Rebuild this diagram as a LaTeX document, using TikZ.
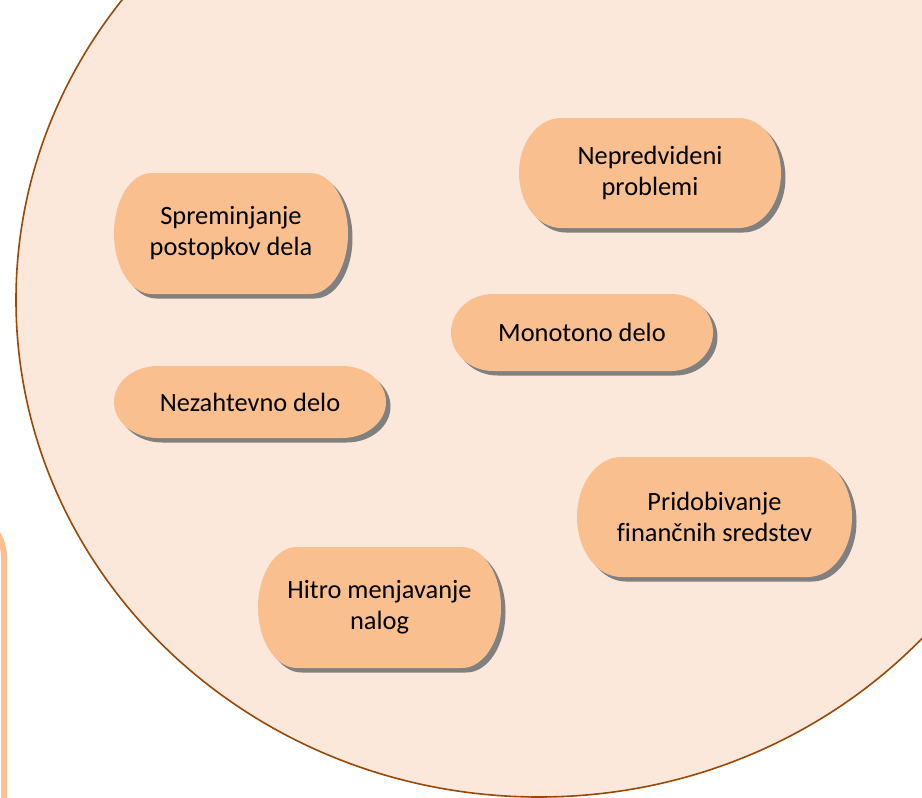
\documentclass[tikz,border=0pt]{standalone}
\usepackage{fontspec}
\setmainfont{Carlito}[Ligatures=NoCommon]
\definecolor{bigfill}{HTML}{FBE8DA}
\definecolor{bigline}{HTML}{984807}
\definecolor{pillorange}{HTML}{F9BF8F}
\definecolor{shadowgray}{HTML}{808080}
\definecolor{sideorange}{HTML}{FAC090}
\tikzset{
  bigoval/.style={fill=bigfill, draw=bigline, line width=1.6pt},
  sidebox/.style={draw=sideorange, line width=6pt, rounded corners=45pt},
  pillfill/.style={fill=pillorange},
  pillshadow/.style={fill=shadowgray},
  pilltext/.style={align=center, inner sep=0pt, text=black, font=\fontsize{26.4}{31}\selectfont}
}
\newcommand\pillbox[6]{%
  \pgfmathsetmacro\prx{0.161*(#4-#2)}%
  \pgfmathsetmacro\pry{(#5-#3)/2}%
  \pgfmathsetmacro\pxa{#2+\prx}%
  \pgfmathsetmacro\pxb{#4-\prx}%
  \fill[pillshadow, xshift=4.5pt, yshift=-4.5pt] (\pxa,-#3) -- (\pxb,-#3)
    arc[start angle=90, end angle=-90, x radius=\prx, y radius=\pry]
    -- (\pxa,-#5)
    arc[start angle=270, end angle=90, x radius=\prx, y radius=\pry] -- cycle;
  \fill[pillfill] (\pxa,-#3) -- (\pxb,-#3)
    arc[start angle=90, end angle=-90, x radius=\prx, y radius=\pry]
    -- (\pxa,-#5)
    arc[start angle=270, end angle=90, x radius=\prx, y radius=\pry] -- cycle;
  \node[pilltext] (#1) at ({(#2+#4)/2},{-(#3+#5)/2}) {#6};
}
\begin{document}
\begin{tikzpicture}[x=1pt, y=1pt]
\useasboundingbox (0,0) rectangle (922,-798);
\clip (0,0) rectangle (922,-798);
\fill[white] (0,0) rectangle (922,-798);
% outer oval
\path[bigoval] (539,-300) ellipse [x radius=523, y radius=497];
% partial box at left edge
\draw[sidebox] (-300,-512) rectangle (4,-1000);
% pills
\pillbox{spreminjanje}{114}{173}{348}{294}{Spreminjanje\\postopkov dela}
\pillbox{nepredvideni}{519}{118}{781}{228}{Nepredvideni\\problemi}
\pillbox{monotono}{451}{294}{713}{371}{Monotono delo}
\pillbox{nezahtevno}{114}{366}{386}{438}{Nezahtevno delo}
\pillbox{pridobivanje}{577}{457}{852}{577}{Pridobivanje\\finančnih sredstev}
\pillbox{hitro}{258}{547}{501}{668}{Hitro menjavanje\\nalog}
\end{tikzpicture}
\end{document}
